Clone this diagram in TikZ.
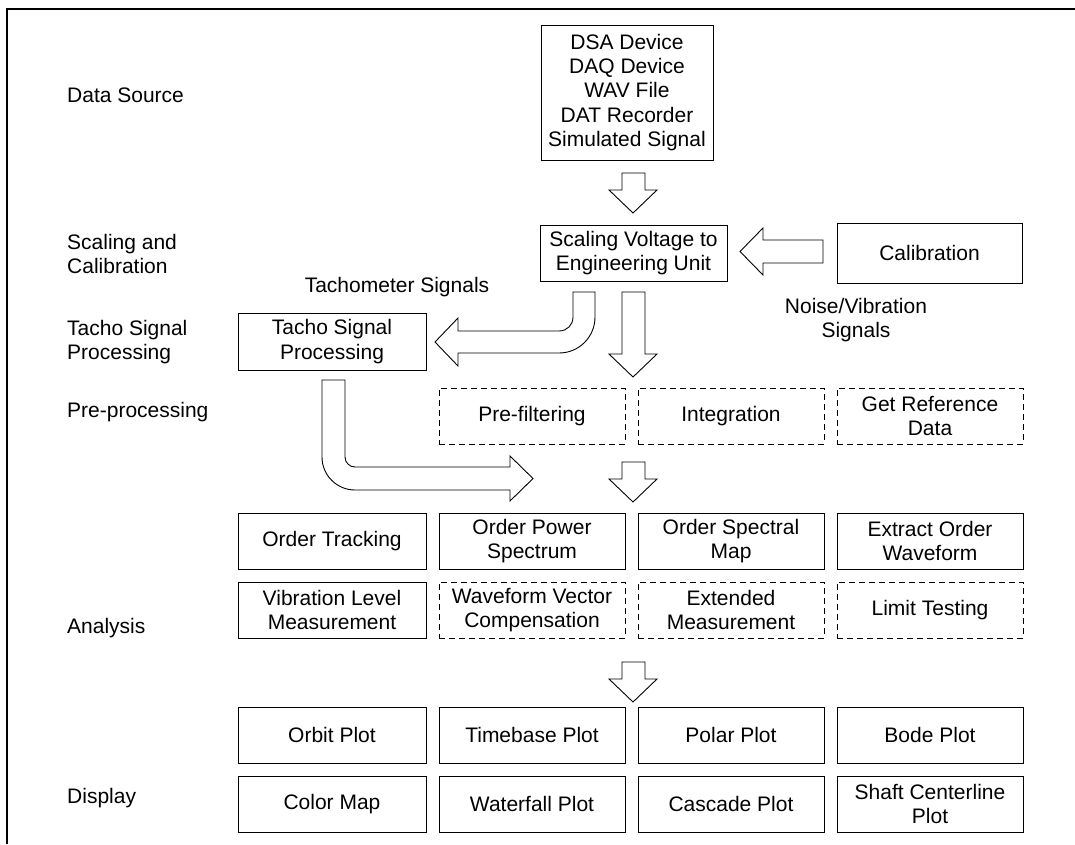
\documentclass[tikz,border=0pt]{standalone}
\usepackage{fontspec}
\setmainfont{Liberation Sans}
\begin{document}
\begin{tikzpicture}[x=1pt,y=-1pt,
  txt/.style={font=\fontsize{21}{24.3}\selectfont, inner sep=0pt, align=center},
  lbl/.style={txt, anchor=west, align=left},
  box/.style={txt, draw, line width=0.9pt, minimum height=56pt},
  dbox/.style={box, dash pattern=on 6pt off 4pt},
  wide/.style={minimum width=188pt},
  norm/.style={minimum width=186pt},
  barrow/.style={draw, fill=white, line width=0.9pt, line join=miter}]
\useasboundingbox (0,0) rectangle (1075,844);
% frame
\draw[line width=2.5pt] (7,844) -- (7,9) -- (1075,9);

% row labels
\node[lbl] (lds) at (67,95) {Data Source};
\node[lbl] (lsc) at (67,254) {Scaling and\\Calibration};
\node[lbl] (lta) at (67,342) {Tacho Signal\\Processing};
\node[lbl] (lpr) at (67,412) {Pre-processing};
\node[lbl] (lan) at (67,628) {Analysis};
\node[lbl] (ldi) at (67,798) {Display};

% source
\node[box, minimum width=172pt, minimum height=135pt] (dsa) at (627,92.5)
  {DSA Device\\DAQ Device\\WAV File\\DAT Recorder\\Simulated Signal};
\node[box, minimum width=187pt] (scale) at (633.5,253) {Scaling Voltage to\\Engineering Unit};
\node[box, minimum width=185pt, minimum height=60pt] (cal) at (929.5,253) {Calibration};
\node[box, wide, minimum height=57pt] (tacho) at (332,341.5) {Tacho Signal\\Processing};

\node[txt] (tachlbl) at (397,287) {Tachometer Signals};
\node[txt] (noiselbl) at (856,320) {Noise/Vibration\\Signals};

% pre-processing
\node[dbox, norm] (pre) at (532,416) {Pre-filtering};
\node[dbox, norm] (int) at (731,416) {Integration};
\node[dbox, norm] (ref) at (930,416) {Get Reference\\Data};

% analysis
\node[box, wide] (a11) at (332,541) {Order Tracking};
\node[box, norm] (a12) at (532,541) {Order Power\\Spectrum};
\node[box, norm] (a13) at (731,541) {Order Spectral\\Map};
\node[box, norm] (a14) at (930,541) {Extract Order\\Waveform};
\node[box, wide] (a21) at (332,610) {Vibration Level\\Measurement};
\node[dbox, norm] (a22) at (532,610) {Waveform Vector\\Compensation};
\node[dbox, norm] (a23) at (731,610) {Extended\\Measurement};
\node[dbox, norm] (a24) at (930,610) {Limit Testing};

% display
\node[box, wide] (d11) at (332,735) {Orbit Plot};
\node[box, norm] (d12) at (532,735) {Timebase Plot};
\node[box, norm] (d13) at (731,735) {Polar Plot};
\node[box, norm] (d14) at (930,735) {Bode Plot};
\node[box, wide] (d21) at (332,804) {Color Map};
\node[box, norm] (d22) at (532,804) {Waterfall Plot};
\node[box, norm] (d23) at (731,804) {Cascade Plot};
\node[box, norm] (d24) at (930,804) {Shaft Centerline\\Plot};

% block arrows
% DSA -> scaling
\draw[barrow] (622,173) -- (645,173) -- (645,190) -- (657,190) -- (633,213) -- (609,190) -- (622,190) -- cycle;
% calibration -> scaling
\draw[barrow] (823,240) -- (823,263) -- (763,263) -- (763,275) -- (740,251.5) -- (763,228) -- (763,240) -- cycle;
% scaling -> pre-processing
\draw[barrow] (622,292) -- (645,292) -- (645,354) -- (657,354) -- (633,377) -- (609,354) -- (622,354) -- cycle;
% scaling -> tacho (bent)
\draw[barrow] (573,292) -- (595,292) -- (595,317) .. controls (595,337) and (579,353) .. (559,353)
  -- (458,353) -- (458,366) -- (435,342) -- (458,318) -- (458,331) -- (559,331)
  .. controls (567,331) and (573,325) .. (573,317) -- cycle;
% tacho -> analysis (bent)
\draw[barrow] (322,380) -- (345,380) -- (345,457) .. controls (345,462.5) and (349.5,467) .. (355,467)
  -- (510,467) -- (510,456) -- (533,478.5) -- (510,501) -- (510,490) -- (355,490)
  .. controls (336.8,490) and (322,475.2) .. (322,457) -- cycle;
% pre -> analysis
\draw[barrow] (622,462) -- (645,462) -- (645,479) -- (657,479) -- (633,502) -- (609,479) -- (622,479) -- cycle;
% analysis -> display
\draw[barrow] (622,662) -- (645,662) -- (645,679) -- (657,679) -- (633,702) -- (609,679) -- (622,679) -- cycle;
\end{tikzpicture}
\end{document}
